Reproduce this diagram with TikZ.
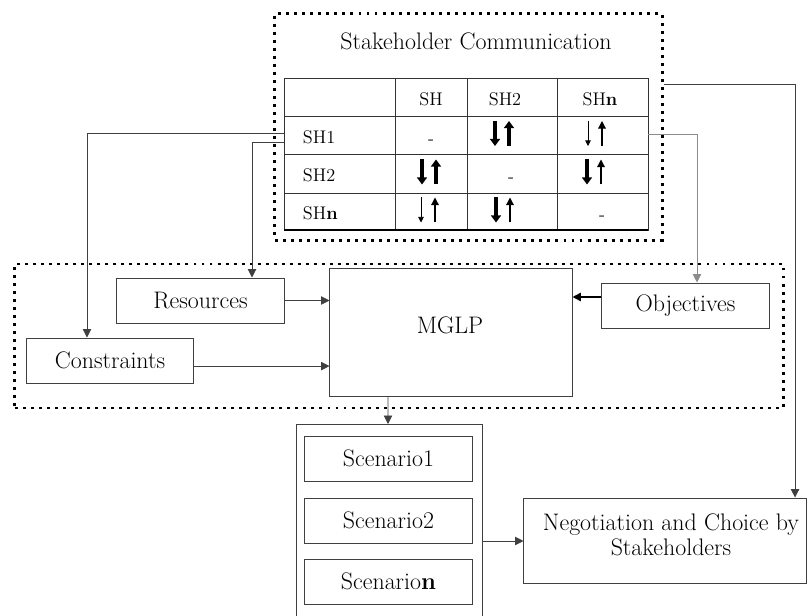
\documentclass[tikz,border=0pt]{standalone}
\usetikzlibrary{arrows.meta,positioning}
\begin{document}
\begin{tikzpicture}[x=0.025cm,y=-0.025cm,
        txt/.style={font=\fontsize{17}{18}\selectfont},
        box/.style={txt,draw=black!75,line width=0.7pt,minimum width=4.175cm,minimum height=1.125cm},
        dotbox/.style={draw,line width=2.1pt,dash pattern=on 2.1pt off 3.6pt,inner sep=0pt},
        conn/.style={draw=black!75,line width=0.6pt,-{Triangle[length=6pt,width=6pt]}},
        cell/.style={font=\fontsize{13}{15}\selectfont},
        bigarr/.style={line width=2.6pt,-{Triangle[length=5pt,width=7pt]}},
        midarr/.style={line width=0.9pt,-{Triangle[length=5.5pt,width=5.5pt]}},
        smallarr/.style={line width=0.6pt,-{Triangle[length=4pt,width=4pt]}}]
    \useasboundingbox (0,0) rectangle (808,616);

    % stakeholder communication
    \node[dotbox,minimum width=9.675cm,minimum height=5.65cm] (scbox) at (468.5,127) {};
    \node[txt] (title) at (476,41) {Stakeholder Communication};
    \node[inner sep=0pt,minimum width=9.1cm,minimum height=3.8cm] (tbl) at (466,154) {};
    \draw[black!80,line width=0.7pt] (284,78) rectangle (648,230)
        (395,78) -- (395,230) (467,78) -- (467,230) (557,78) -- (557,230)
        (284,116) -- (648,116) (284,154) -- (648,154) (284,193) -- (648,193);
    \draw[line width=1.5pt] (284,230) -- (648,230);
    \node[cell] (hsh) at (431,99) {SH};
    \node[cell] (hsh2) at (505,99) {SH2};
    \node[cell] (hshn) at (600,99) {SH\textbf{n}};
    \node[cell,anchor=west] (rsh1) at (298,137) {SH1};
    \node[cell,anchor=west] (rsh2) at (298,175) {SH2};
    \node[cell,anchor=west] (rshn) at (298,213) {SH\textbf{n}};
    \node[cell] (d1) at (431,142) {-};
    \node[cell] (d2) at (511,180) {-};
    \node[cell] (d3) at (602,218) {-};
    \foreach \r/\c/\dn/\up in {135/502/bigarr/bigarr, 135/595/smallarr/midarr,
            173.5/429/bigarr/bigarr, 173.5/594/bigarr/midarr,
            211.5/428/smallarr/midarr, 211.5/503/bigarr/midarr}
        {
        \draw[\dn] (\c-7,\r-14) -- (\c-7,\r+11);
        \draw[\up] (\c+7,\r+11) -- (\c+7,\r-14);
        }

    % model part
    \node[dotbox,minimum width=19.2cm,minimum height=3.6cm] (mbox) at (399,336) {};
    \node[box,minimum width=6.05cm,minimum height=3.175cm] (mglp) at (451,332.5) {};
    \node[txt] (mglptxt) at (450,325) {MGLP};
    \node[box] (res) at (200.5,300.5) {Resources};
    \node[box,minimum width=4.15cm] (cons) at (110,360.5) {Constraints};
    \node[box] (obj) at (685.5,305.5) {Objectives};

    % scenarios
    \draw[black!75,line width=0.7pt] (296,616) |- (482,424) -- (482,616);
    \coordinate (conttop) at (388,424);
    \coordinate (contright) at (482,541);
    \node[box] (scen1) at (388.5,458.5) {Scenario1};
    \node[box] (scen2) at (388.5,520.5) {Scenario2};
    \node[box] (scenn) at (388.5,581.5) {Scenario\textbf{n}};
    \node[box,minimum width=7.05cm,minimum height=2.125cm] (neg) at (665,540.5) {};
    \node[txt,align=center] (negtxt) at (671,535) {Negotiation and Choice by\\Stakeholders};

    % connectors
    \draw[conn] ([yshift=0.525cm]tbl.west) -| ([xshift=-0.575cm]cons.north);
    \draw[conn] ([yshift=0.3cm]tbl.west) -| ([xshift=1.2875cm]res.north);
    \draw[conn,draw=black!45] ([yshift=0.5cm]tbl.east) -| ([xshift=0.2875cm]obj.north);
    \draw[conn] ([yshift=1.075cm]scbox.east) -| ([xshift=3.25cm]neg.north);
    \draw[conn] (res.east) -- (res.east -| mglp.west);
    \draw[conn] ([yshift=-0.14cm]cons.east) -- ([yshift=-0.14cm]cons.east -| mglp.west);
    \draw[conn,draw=black,line width=1.2pt] ([yshift=0.2125cm]obj.west) -- ([yshift=0.2125cm]obj.west -| mglp.east);
    \draw[conn] ([xshift=-1.575cm]mglp.south) -- (conttop);
    \draw[conn] (contright) -- (contright -| neg.west);
\end{tikzpicture}
\end{document}
